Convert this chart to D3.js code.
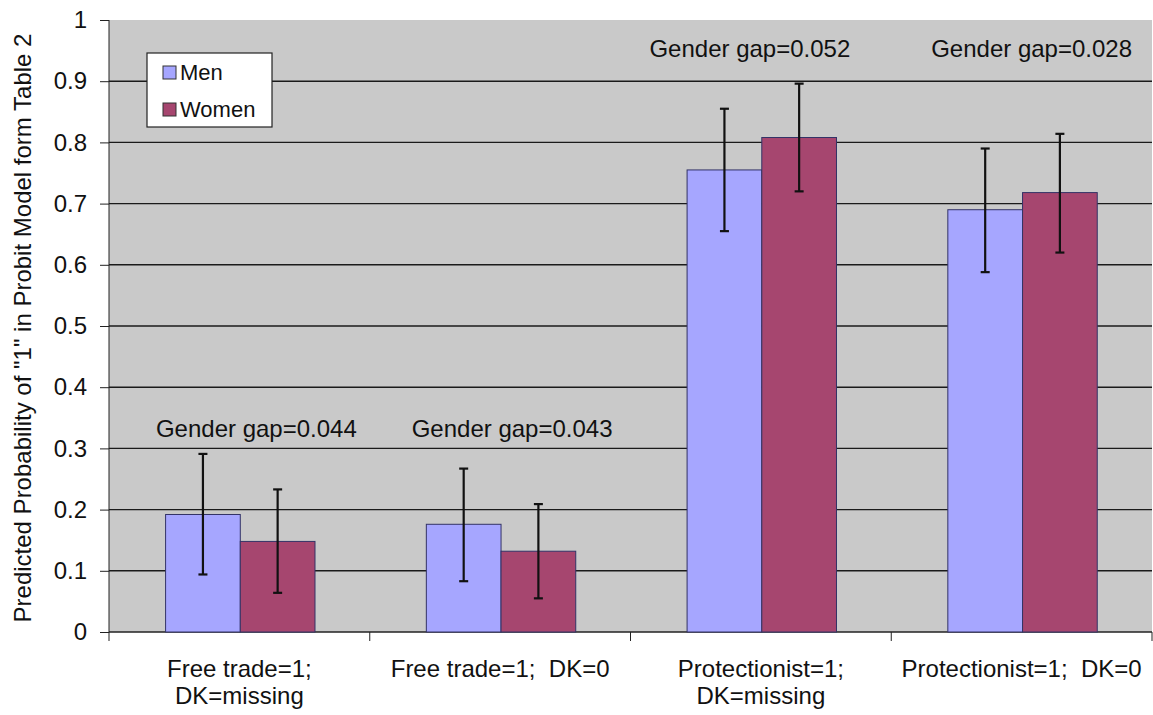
<!DOCTYPE html>
<html>
<head>
<meta charset="utf-8">
<script src="https://cdn.jsdelivr.net/npm/d3@7"></script>
<style>
  body { margin: 0; background: #fff; }
  svg { display: block; font-family: "Liberation Sans", Arial, sans-serif; }
</style>
</head>
<body>
<script>
// Data

const categories = [
  ['Free trade=1;', 'DK=missing'],
  ['Free trade=1;  DK=0'],
  ['Protectionist=1;', 'DK=missing'],
  ['Protectionist=1;  DK=0']
];
const series = ['Men', 'Women'];
const men = [0.192, 0.176, 0.755, 0.690];
const women = [0.148, 0.132, 0.808, 0.718];
const menLow = [0.094, 0.083, 0.655, 0.588];
const menHigh = [0.291, 0.267, 0.855, 0.790];
const womenLow = [0.064, 0.055, 0.720, 0.620];
const womenHigh = [0.233, 0.209, 0.896, 0.814];
const gapLabels = ['Gender gap=0.044', 'Gender gap=0.043', 'Gender gap=0.052', 'Gender gap=0.028'];
const gapLabelY = [0.319, 0.319, 0.939, 0.939];
const yTicks = [0, 0.1, 0.2, 0.3, 0.4, 0.5, 0.6, 0.7, 0.8, 0.9, 1];

// Constants

const width = 1153;
const height = 715;
const margin = { top: 20, right: 1, bottom: 83, left: 109 };
const colors = { Men: '#a6a6ff', Women: '#a6466f' };
const gapDx = [17, 12, -11, 10];
const fs = 24;

const rows = categories.map((c, i) => ({
  i,
  values: [
    { key: 'Men', v: men[i], lo: menLow[i], hi: menHigh[i] },
    { key: 'Women', v: women[i], lo: womenLow[i], hi: womenHigh[i] }
  ]
}));

// Scales

const x0 = d3
  .scaleBand()
  .domain(d3.range(categories.length))
  .range([margin.left, width - margin.right])
  .padding(0);

const x1 = d3
  .scaleBand()
  .domain(series)
  .range([x0.bandwidth() * 0.217, x0.bandwidth() * 0.79]);

const y = d3
  .scaleLinear()
  .domain([0, 1])
  .range([height - margin.bottom, margin.top]);

// Setup svg

const svg = d3
  .select('body')
  .append('svg')
  .attr('width', width)
  .attr('height', height);

svg
  .append('rect')
  .attr('x', margin.left)
  .attr('y', margin.top)
  .attr('width', width - margin.right - margin.left)
  .attr('height', y(0) - margin.top)
  .attr('fill', '#c9c9c9');

// grid
svg
  .append('g')
  .attr('stroke', '#1a1a1a')
  .attr('stroke-width', 1.4)
  .selectAll('line')
  .data(yTicks.slice(1, -1))
  .join('line')
  .attr('x1', margin.left)
  .attr('x2', width - margin.right)
  .attr('y1', (d) => y(d))
  .attr('y2', (d) => y(d));

// y axis
svg
  .append('g')
  .attr('transform', `translate(${margin.left},0)`)
  .call(d3.axisLeft(y).tickValues(yTicks).tickFormat(d3.format('~g')).tickSize(9).tickPadding(13))
  .call((g) => g.selectAll('line').attr('stroke', '#222'))
  .call((g) => g.select('.domain').attr('stroke', '#222').attr('d', `M0,${y(1)}V${y(0)}`))
  .call((g) => g.selectAll('text').attr('font-size', fs).attr('fill', '#111').attr('font-family', '"Liberation Sans", Arial, sans-serif'));

// x axis
const xa = svg
  .append('g')
  .attr('transform', `translate(0,${y(0)})`);

xa.append('line')
  .attr('x1', margin.left)
  .attr('x2', width - margin.right)
  .attr('stroke', '#222')
  .attr('stroke-width', 1.4);

xa.selectAll('.tick')
  .data(d3.range(categories.length + 1))
  .join('line')
  .attr('x1', (d) => (d < categories.length ? x0(d) : x0(d - 1) + x0.bandwidth()))
  .attr('x2', (d) => (d < categories.length ? x0(d) : x0(d - 1) + x0.bandwidth()))
  .attr('y1', 0)
  .attr('y2', 9)
  .attr('stroke', '#222');

xa.selectAll('text')
  .data(categories)
  .join('text')
  .attr('x', (d, i) => x0(i) + x0.bandwidth() / 2)
  .attr('y', 45)
  .attr('text-anchor', 'middle')
  .attr('font-size', fs)
  .attr('fill', '#111')
  .selectAll('tspan')
  .data((d) => d)
  .join('tspan')
  .attr('x', function () { return this.parentNode.getAttribute('x'); })
  .attr('dy', (d, i) => (i === 0 ? 0 : 27))
  .style('white-space', 'pre')
  .text((d) => d);

// bars
const groups = svg
  .append('g')
  .selectAll('g')
  .data(rows)
  .join('g')
  .attr('transform', (d) => `translate(${x0(d.i)},0)`);

groups
  .selectAll('rect')
  .data((d) => d.values)
  .join('rect')
  .attr('x', (d) => x1(d.key))
  .attr('y', (d) => y(d.v))
  .attr('width', x1.bandwidth())
  .attr('height', (d) => y(0) - y(d.v))
  .attr('fill', (d) => colors[d.key])
  .attr('stroke', '#333366')
  .attr('stroke-width', 1);

// error bars
const err = groups
  .selectAll('g.err')
  .data((d) => d.values)
  .join('g')
  .attr('class', 'err')
  .attr('stroke', '#111')
  .attr('stroke-width', 2.2);

err.append('line')
  .attr('x1', (d) => x1(d.key) + x1.bandwidth() / 2)
  .attr('x2', (d) => x1(d.key) + x1.bandwidth() / 2)
  .attr('y1', (d) => y(d.lo))
  .attr('y2', (d) => y(d.hi));

err.selectAll('line.cap')
  .data((d) => [d, d].map((e, k) => ({ e, v: k ? e.hi : e.lo })))
  .join('line')
  .attr('class', 'cap')
  .attr('x1', (d) => x1(d.e.key) + x1.bandwidth() / 2 - 4.5)
  .attr('x2', (d) => x1(d.e.key) + x1.bandwidth() / 2 + 4.5)
  .attr('y1', (d) => y(d.v))
  .attr('y2', (d) => y(d.v));

// gap labels
svg
  .append('g')
  .attr('font-size', fs)
  .attr('fill', '#111')
  .attr('text-anchor', 'middle')
  .selectAll('text')
  .data(gapLabels)
  .join('text')
  .attr('x', (d, i) => x0(i) + x0.bandwidth() / 2 + gapDx[i])
  .attr('y', (d, i) => y(gapLabelY[i]))
  .text((d) => d);

// legend
const legend = svg.append('g').attr('transform', 'translate(147,53)');

legend
  .append('rect')
  .attr('width', 125)
  .attr('height', 74)
  .attr('fill', '#fff')
  .attr('stroke', '#222')
  .attr('stroke-width', 1.2);

const li = legend
  .selectAll('g')
  .data(series)
  .join('g')
  .attr('transform', (d, i) => `translate(16,${27 + i * 37})`);

li.append('rect')
  .attr('x', 0)
  .attr('y', -14)
  .attr('width', 13)
  .attr('height', 13)
  .attr('fill', (d) => colors[d])
  .attr('stroke', '#333');

li.append('text')
  .attr('x', 17)
  .attr('y', 0)
  .attr('font-size', 22)
  .attr('fill', '#111')
  .text((d) => d);

// y title
svg
  .append('text')
  .attr('transform', `translate(31,${(y(0) + y(1)) / 2 + 2}) rotate(-90)`)
  .attr('text-anchor', 'middle')
  .attr('font-size', fs)
  .attr('fill', '#111')
  .text('Predicted Probability of "1" in Probit Model form Table 2');
</script>
</body>
</html>
